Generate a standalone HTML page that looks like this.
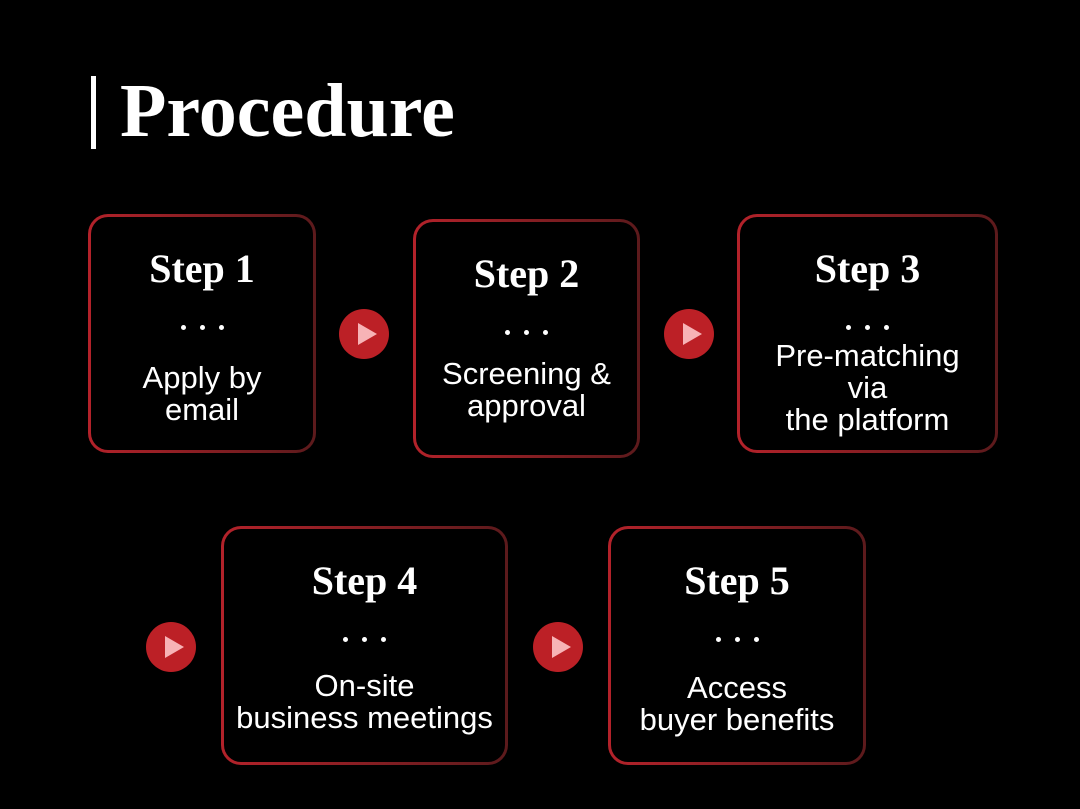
<!DOCTYPE html>
<html><head><style>
body{margin:0;width:1080px;height:809px;background:#000;position:relative;overflow:hidden;font-family:"Liberation Sans",sans-serif;color:#fff}
.bar{position:absolute;left:91px;top:76px;width:5px;height:73px;background:#fff}
.title{position:absolute;left:120px;top:66px;font-family:"Liberation Serif",serif;font-weight:bold;font-size:76px;line-height:90px}
.box{position:absolute;box-sizing:border-box;border-radius:20px;padding:3px;background:linear-gradient(90deg,#b3222a,#5c1a1c)}
.in{width:100%;height:100%;background:#000;border-radius:17px;text-align:center;position:relative}
.h{position:absolute;left:0;right:0;top:30px;font-family:"Liberation Serif",serif;font-weight:bold;font-size:40px;line-height:44px}
.d{position:absolute;left:0;right:0;top:100px;text-align:center}
.d i{display:inline-block;width:5px;height:5px;border-radius:50%;background:#fff;margin:0 7px}
.t{position:absolute;left:-10px;right:-10px;font-size:31px;line-height:32px}
.c{position:absolute;width:50px;height:50px;border-radius:50%;background:#bc2026}
.c:after{content:"";position:absolute;left:19px;top:14px;border-left:19px solid #f7b3b6;border-top:11px solid transparent;border-bottom:11px solid transparent}
</style></head><body>
<div class="bar"></div><div class="title">Procedure</div>

<div class="box" style="left:88px;top:214px;width:228px;height:239px"><div class="in"><div class="h">Step 1</div><div class="d"><i></i><i></i><i></i></div><div class="t" style="top:145px">Apply by<br>email</div></div></div>
<div class="box" style="left:413px;top:219px;width:227px;height:239px"><div class="in"><div class="h">Step 2</div><div class="d"><i></i><i></i><i></i></div><div class="t" style="top:136px">Screening &amp;<br>approval</div></div></div>
<div class="box" style="left:737px;top:214px;width:261px;height:239px"><div class="in"><div class="h">Step 3</div><div class="d"><i></i><i></i><i></i></div><div class="t" style="top:123px">Pre-matching<br>via<br>the platform</div></div></div>
<div class="box" style="left:221px;top:526px;width:287px;height:239px"><div class="in"><div class="h">Step 4</div><div class="d"><i></i><i></i><i></i></div><div class="t" style="top:141px">On-site<br>business meetings</div></div></div>
<div class="box" style="left:608px;top:526px;width:258px;height:239px"><div class="in"><div class="h">Step 5</div><div class="d"><i></i><i></i><i></i></div><div class="t" style="top:143px">Access<br>buyer benefits</div></div></div>

<div class="c" style="left:339px;top:309px"></div>
<div class="c" style="left:664px;top:309px"></div>
<div class="c" style="left:146px;top:622px"></div>
<div class="c" style="left:533px;top:622px"></div>
</body></html>
